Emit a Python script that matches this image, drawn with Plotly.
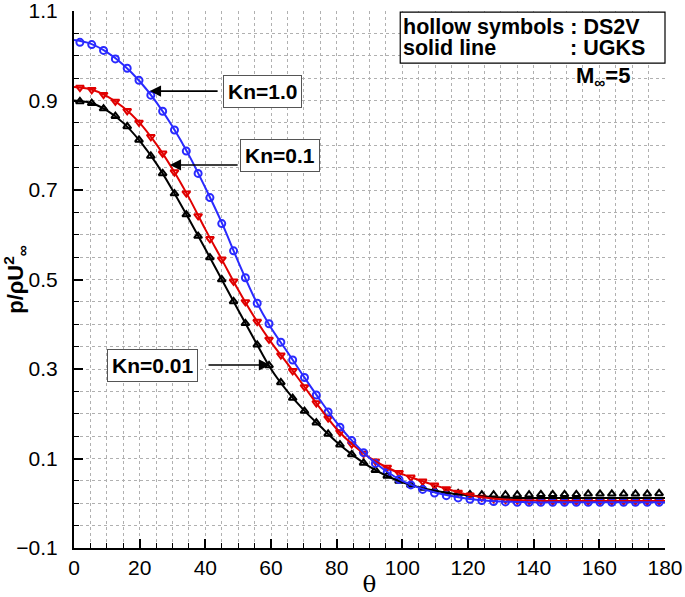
import plotly.graph_objects as go

# ---- data ----
theta_line = [0, 5, 10, 15, 20, 25, 30, 35, 40, 45, 50, 55, 60, 65, 70, 75, 80, 85, 90,
              95, 100, 105, 110, 115, 120, 125, 130, 135, 140, 145, 150, 155, 160, 165, 170, 175, 180]

ugks_kn001 = [0.900, 0.895, 0.878, 0.850, 0.810, 0.760, 0.700, 0.635, 0.568, 0.500, 0.432, 0.365,
              0.300, 0.250, 0.208, 0.172, 0.137, 0.107, 0.082, 0.062, 0.047, 0.036, 0.028, 0.022,
              0.018, 0.015, 0.013, 0.012, 0.012, 0.012, 0.012, 0.012, 0.012, 0.012, 0.012, 0.012, 0.012]
ugks_kn01 = [0.930, 0.925, 0.910, 0.885, 0.850, 0.803, 0.747, 0.683, 0.612, 0.545, 0.477, 0.415,
             0.360, 0.312, 0.262, 0.212, 0.166, 0.130, 0.102, 0.081, 0.065, 0.052, 0.040, 0.029,
             0.019, 0.013, 0.009, 0.007, 0.006, 0.005, 0.005, 0.005, 0.005, 0.005, 0.005, 0.005, 0.005]
ugks_kn1 = [1.035, 1.027, 1.008, 0.980, 0.943, 0.897, 0.842, 0.778, 0.705, 0.627, 0.540, 0.458,
            0.392, 0.338, 0.283, 0.230, 0.180, 0.137, 0.101, 0.072, 0.050, 0.035, 0.024, 0.016,
            0.010, 0.006, 0.004, 0.003, 0.002, 0.002, 0.002, 0.002, 0.002, 0.002, 0.002, 0.002, 0.002]

theta_sym = [1.8, 5.4, 9.0, 12.6, 16.2, 19.8, 23.4, 27.0, 30.6, 34.2, 37.8, 41.4, 45.0, 48.6,
             52.2, 55.8, 59.4, 63.0, 66.6, 70.2, 73.8, 77.4, 81.0, 84.6, 88.2, 91.8, 95.4, 99.0,
             102.6, 106.2, 109.8, 113.4, 117.0, 120.6, 124.2, 127.8, 131.4, 135.0, 138.6, 142.2,
             145.8, 149.4, 153.0, 156.6, 160.2, 163.8, 167.4, 171.0, 174.6, 178.2]

ds2v_kn001 = [0.898, 0.894, 0.882, 0.865, 0.842, 0.812, 0.776, 0.737, 0.692, 0.645, 0.597, 0.549,
              0.500, 0.451, 0.402, 0.354, 0.308, 0.270, 0.235, 0.206, 0.180, 0.155, 0.131, 0.109,
              0.090, 0.074, 0.061, 0.050, 0.041, 0.034, 0.029, 0.025, 0.022, 0.020, 0.019, 0.019,
              0.019, 0.019, 0.019, 0.020, 0.020, 0.020, 0.020, 0.021, 0.021, 0.021, 0.021, 0.021,
              0.021, 0.022]
ds2v_kn01 = [0.929, 0.924, 0.913, 0.898, 0.877, 0.851, 0.819, 0.782, 0.740, 0.693, 0.642, 0.591,
             0.545, 0.496, 0.450, 0.406, 0.366, 0.331, 0.296, 0.260, 0.224, 0.190, 0.159, 0.132,
             0.111, 0.094, 0.080, 0.068, 0.058, 0.049, 0.040, 0.032, 0.024, 0.018, 0.013, 0.010,
             0.008, 0.007, 0.006, 0.006, 0.005, 0.005, 0.005, 0.005, 0.005, 0.005, 0.005, 0.005,
             0.005, 0.005]
ds2v_kn1 = [1.030, 1.025, 1.012, 0.993, 0.972, 0.945, 0.912, 0.876, 0.834, 0.787, 0.737, 0.683,
            0.625, 0.564, 0.504, 0.447, 0.401, 0.360, 0.320, 0.281, 0.242, 0.204, 0.170, 0.140,
            0.113, 0.089, 0.069, 0.053, 0.041, 0.031, 0.023, 0.017, 0.012, 0.009, 0.006, 0.004,
            0.003, 0.002, 0.002, 0.002, 0.002, 0.002, 0.002, 0.002, 0.002, 0.002, 0.002, 0.002,
            0.002, 0.002]

BLACK = "#000000"
RED = "#e00000"
BLUE = "#2a2aff"

fig = go.Figure()

for vals, col, sym in [(ds2v_kn001, BLACK, "triangle-up-open"),
                       (ds2v_kn01, RED, "triangle-down-open"),
                       (ds2v_kn1, BLUE, "circle-open")]:
    fig.add_trace(go.Scatter(x=theta_sym, y=vals, mode="markers",
                             marker=dict(symbol=sym, size=7, color=col, line=dict(width=2, color=col)),
                             showlegend=False))

for vals, col in [(ugks_kn001, BLACK), (ugks_kn01, RED), (ugks_kn1, BLUE)]:
    fig.add_trace(go.Scatter(x=theta_line, y=vals, mode="lines", line=dict(color=col, width=2, shape="spline"),
                             showlegend=False))

grid = "#b0b0b0"
font_main = "Liberation Sans, Arial, sans-serif"

fig.update_layout(
    width=685, height=597,
    margin=dict(l=74, r=20, t=11, b=49, autoexpand=False),
    plot_bgcolor="white", paper_bgcolor="white",
    font=dict(family=font_main, color="black", size=21),
    xaxis=dict(range=[0, 180], tick0=0, dtick=20, ticks="inside", ticklen=9, tickwidth=2,
               tickcolor="black", showline=True, linecolor="black", linewidth=2,
               showgrid=True, gridcolor=grid, griddash="dot", gridwidth=1, zeroline=False,
               tickfont=dict(size=21), automargin=False, ticklabelstandoff=0,
               ticklabeloverflow="allow",
               minor=dict(dtick=5, ticks="inside", ticklen=5, tickcolor="black", tickwidth=1,
                          showgrid=True, gridcolor=grid, griddash="dot", gridwidth=1),
               title=dict(text="θ", font=dict(family="DejaVu Serif, Liberation Serif, serif", size=23),
                          standoff=0)),
    yaxis=dict(range=[-0.1, 1.1], tick0=-0.1, dtick=0.2, tickformat=".1f", ticks="inside",
               ticklen=9, tickwidth=2, tickcolor="black", showline=True, linecolor="black",
               linewidth=2, showgrid=True, gridcolor=grid, griddash="dot", gridwidth=1,
               zeroline=False, tickfont=dict(size=21), automargin=False, ticklabelstandoff=10,
               ticklabeloverflow="allow",
               minor=dict(tick0=-0.1, dtick=0.05, ticks="inside", ticklen=5, tickcolor="black",
                          tickwidth=1, showgrid=True, gridcolor=grid, griddash="dot", gridwidth=1),
               title=dict(text="<b>p/ρU<sup>2</sup><sub>∞</sub></b>", font=dict(size=22), standoff=2)),
)

# legend-like text box (top right)
fig.add_shape(type="rect", xref="paper", yref="paper", x0=0.552, x1=1.0, y0=0.903, y1=0.998,
              line=dict(color="black", width=1.2), fillcolor="white", layer="above")


def px_ann(text, px, py, xanchor="left", size=21.5):
    fig.add_annotation(xref="paper", yref="paper", x=(px - 74) / 591, y=(548 - py) / 537,
                       text=text, showarrow=False, xanchor=xanchor, yanchor="middle",
                       font=dict(family=font_main, size=size, color="black"))


px_ann("<b>hollow symbols : DS2V</b>", 401, 27)
px_ann("<b>solid line</b>", 401, 48)
px_ann("<b>: UGKS</b>", 568, 48)
px_ann("<b>M<sub>∞</sub>=5</b>", 574, 77, size=22)

# Kn labels with arrows
def kn_label(text, cx, cy, tail, tip):
    fig.add_annotation(x=tip[0], y=tip[1], ax=tail[0], ay=tail[1], axref="x", ayref="y",
                       xref="x", yref="y", text="", showarrow=True, arrowhead=2, arrowsize=1.4,
                       arrowwidth=1.6, arrowcolor="black", standoff=0, startstandoff=0)
    fig.add_annotation(x=cx, y=cy, xref="x", yref="y", text="<b>" + text + "</b>", showarrow=False,
                       bgcolor="white", bordercolor="#555555", borderwidth=1, borderpad=4,
                       font=dict(family=font_main, size=21, color="black"))


kn_label("Kn=1.0", 57.3, 0.921, (44.2, 0.921), (23.1, 0.921))
kn_label("Kn=0.1", 62.6, 0.776, (50.3, 0.756), (29.2, 0.756))
kn_label("Kn=0.01", 23.9, 0.307, (40.5, 0.309), (59.7, 0.309))

fig.write_html("out.html", config={"displayModeBar": False},
               post_script="document.body.style.margin='0';")
